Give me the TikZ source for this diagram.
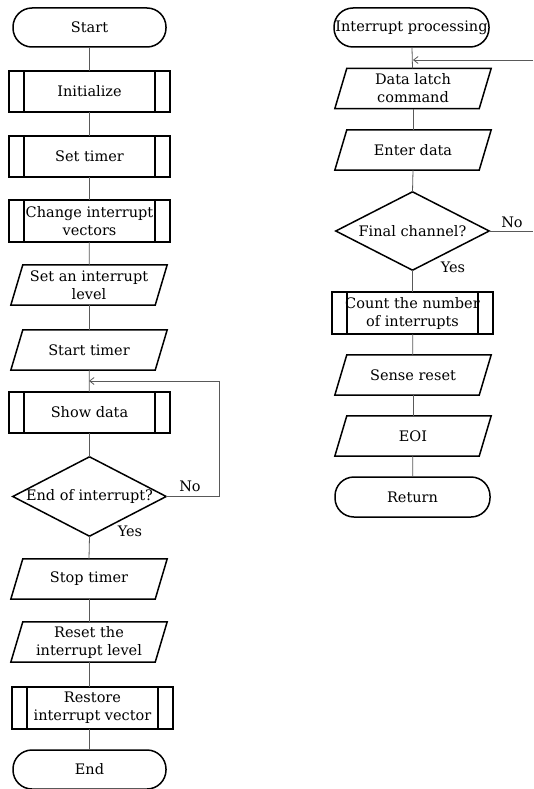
\documentclass[tikz,border=0pt]{standalone}
\usepackage{fontspec}
\setmainfont{DejaVu Serif}
\usetikzlibrary{calc,arrows.meta}

\begin{document}
\begin{tikzpicture}[x=1pt,y=-1pt,
  every node/.style={font=\fontsize{14.5}{18}\selectfont, inner sep=0pt, align=center},
  outline/.style={draw=black, line width=1.5pt},
  conn/.style={draw=black!65, line width=0.8pt},
  arr/.style={conn, -{Straight Barb[length=4.5pt,width=7pt]}},
  term/.style={outline, rounded corners=19pt, minimum width=153pt, minimum height=39pt},
  sub/.style={minimum width=161pt, minimum height=41pt},
  io/.style={minimum width=144pt, minimum height=40pt},
  decision/.style={minimum width=153pt, minimum height=79pt},
  lbl/.style={}
]
\useasboundingbox (0,0) rectangle (533,789);

% ---- main routine ----
\node[term] (start) at (89.5,27.5) {Start};
\node[sub] (init) at (89.5,91.5) {Initialize};
\node[sub] (settimer) at (89.5,156.5) {Set timer};
\node[sub, minimum height=42pt] (chvec) at (89.5,221) {Change interrupt\\vectors};
\node[io] (setlvl) at (89,285) {Set an interrupt\\level};
\node[io] (sttimer) at (89,350) {Start timer};
\coordinate (loopin) at (89,381);
\node[sub] (showdata) at (89.5,412.5) {Show data};
\node[decision] (dec1) at (89.5,496.5) {End of interrupt?};
\coordinate (loopr) at (219,381);
\node[io] (stop) at (89,579) {Stop timer};
\node[io] (resetlvl) at (89,642) {Reset the\\interrupt level};
\node[sub, minimum height=42pt] (restore) at (92.5,708) {Restore\\interrupt vector};
\node[term] (end) at (89.5,769.5) {End};
\node[lbl] (no1) at (190,486) {No};
\node[lbl] (yes1) at (130,531) {Yes};

% ---- interrupt routine ----
\node[term, minimum width=155pt] (intp) at (411.5,27.5) {Interrupt processing};
\coordinate (join2) at (413,60);
\coordinate (entry2) at (533,60);
\node[io] (latch) at (413,88.5) {Data latch\\command};
\node[io] (enter) at (413,150) {Enter data};
\node[decision, minimum height=78pt] (dec2) at (412.5,231) {Final channel?};
\coordinate (exit2) at (533,231);
\node[sub, minimum height=42pt] (count) at (412.5,313) {Count the number\\of interrupts};
\node[io] (sense) at (413,375) {Sense reset};
\node[io] (eoi) at (413,436) {EOI};
\node[term, minimum width=155pt, minimum height=40pt] (ret) at (412.5,497) {Return};
\node[lbl] (no2) at (512,222) {No};
\node[lbl] (yes2) at (453,267) {Yes};

% ---- symbol outlines ----
\foreach \n in {setlvl,sttimer,stop,resetlvl,latch,enter,sense,eoi}
  \draw[outline] ($(\n.north west)+(6,0)$) -- ($(\n.north east)+(6,0)$)
    -- ($(\n.south east)+(-6,0)$) -- ($(\n.south west)+(-6,0)$) -- cycle;
\foreach \n in {init,settimer,chvec,showdata,restore,count} {
  \draw[outline] (\n.north west) rectangle (\n.south east);
  \draw[outline] ($(\n.north west)+(15,0)$) -- ($(\n.south west)+(15,0)$);
  \draw[outline] ($(\n.north east)+(-15,0)$) -- ($(\n.south east)+(-15,0)$);
}
\foreach \n in {dec1,dec2}
  \draw[outline] (\n.north) -- (\n.east) -- (\n.south) -- (\n.west) -- cycle;

% ---- connectors ----
\draw[conn] (start) -- (init);
\draw[conn] (init) -- (settimer);
\draw[conn] (settimer) -- (chvec);
\draw[conn] (chvec) -- (setlvl);
\draw[conn] (setlvl) -- (sttimer);
\draw[conn] (sttimer) -- (showdata);
\draw[conn] (showdata.south) -- (dec1.north);
\draw[conn] (dec1.south) -- (stop.north);
\draw[conn] (stop) -- (resetlvl);
\draw[conn] (resetlvl.south) -- (resetlvl.south |- restore.north);
\draw[conn] (end.north -| resetlvl.south) -- (restore.south -| resetlvl.south);
\draw[arr] (dec1.east) -| (loopr) -- (loopin);

\draw[conn] (intp) -- (latch);
\draw[arr] (entry2) -- (join2);
\draw[conn] (latch) -- (enter);
\draw[conn] (enter.south) -- (dec2.north);
\draw[conn] (dec2.south) -- (count.north);
\draw[conn] (count) -- (sense);
\draw[conn] (sense) -- (eoi);
\draw[conn] (eoi) -- (ret);
\draw[conn] (dec2.east) -- (exit2);
\end{tikzpicture}
\end{document}
